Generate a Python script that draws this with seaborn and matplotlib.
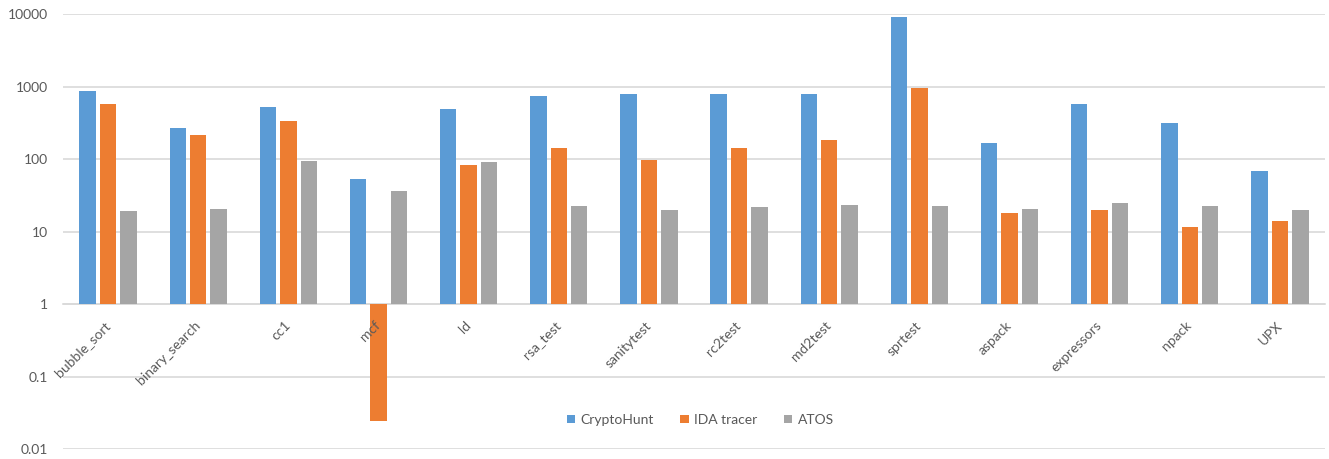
import numpy as np
import pandas as pd
import matplotlib
matplotlib.use("Agg")
import matplotlib.pyplot as plt
import seaborn as sns

# Benchmark programs and the three tools' measurements (log-scale chart)
categories = ["bubble_sort", "binary_search", "cc1", "mcf", "ld", "rsa_test",
              "sanitytest", "rc2test", "md2test", "sprtest", "aspack",
              "expressors", "npack", "UPX"]
cryptohunt = [870, 267, 520, 53, 490, 740, 790, 790, 790, 9100, 166, 575, 313, 68]
ida_tracer = [575, 214, 333, 0.0245, 83, 142, 97, 142, 183, 955, 18, 20, 11.5, 13.8]
atos = [19.2, 20.4, 94, 36, 91, 22.5, 20, 21.8, 23.3, 22.5, 20.5, 25, 22.5, 20]
series_names = ["CryptoHunt", "IDA tracer", "ATOS"]
colors = ["#5B9BD5", "#ED7D31", "#A5A5A5"]
tick_values = [0.01, 0.1, 1, 10, 100, 1000, 10000]
tick_labels = ["0.01", "0.1", "1", "10", "100", "1000", "10000"]

sns.set_theme(style="white")
plt.rcParams["font.family"] = ["Lato", "DejaVu Sans"]
text_color = "#595959"
grid_color = "#d9d9d9"

rows = []
for name, values in zip(series_names, [cryptohunt, ida_tracer, atos]):
    for cat, v in zip(categories, values):
        rows.append({"program": cat, "tool": name, "value": v})
df = pd.DataFrame(rows)
# bars grow from 1, so draw them in log10 units with the baseline at 0
df["log_value"] = np.log10(df["value"])

fig = plt.figure(figsize=(13.29, 4.59), dpi=100)
ax = fig.add_axes([63 / 1329, 10 / 459, (1325 - 63) / 1329, 435 / 459])

sns.barplot(data=df, x="program", y="log_value", hue="tool", order=categories,
            hue_order=series_names, palette=colors, width=0.68, gap=0.2,
            linewidth=0, saturation=1, ax=ax)

ax.set_xlim(-0.5, len(categories) - 0.5)
ax.set_ylim(np.log10(tick_values[0]), np.log10(tick_values[-1]))
ax.set_yticks(np.log10(tick_values))
ax.set_yticklabels(tick_labels)
ax.set_xlabel("")
ax.set_ylabel("")

ax.yaxis.grid(True, color=grid_color, linewidth=1.2)
ax.set_axisbelow(True)
# category names sit on top of the bars, while the gridlines stay beneath
ax.xaxis.set_zorder(3)
for side in ["top", "right", "left"]:
    ax.spines[side].set_visible(False)
ax.spines["bottom"].set_position(("data", 0))
ax.spines["bottom"].set_color(grid_color)
ax.spines["bottom"].set_linewidth(1.2)
ax.spines["bottom"].set_zorder(0.6)

ax.tick_params(axis="y", length=0, pad=11, labelsize=10, labelcolor=text_color)
ax.tick_params(axis="x", length=0, pad=14, labelsize=10, labelcolor=text_color)
fig.canvas.draw()
plt.setp(ax.get_xticklabels(), rotation=45, ha="right", va="center",
         rotation_mode="anchor")

handles, labels = ax.get_legend_handles_labels()
ax.legend(handles, labels, loc="center", bbox_to_anchor=(0.505, 0.067),
          ncol=3, frameon=False, fontsize=10, labelcolor=text_color,
          handlelength=0.6, handleheight=0.6, handletextpad=0.4,
          columnspacing=1.9)

fig.savefig("out.png", dpi=100)
